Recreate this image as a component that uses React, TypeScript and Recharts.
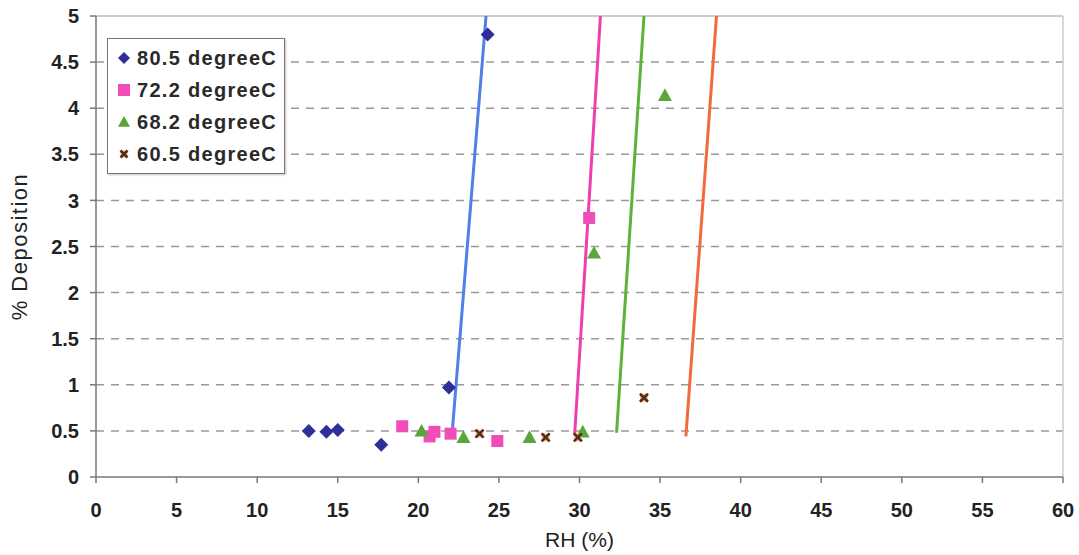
import React from "react";
import {
  ScatterChart,
  Scatter,
  XAxis,
  YAxis,
  CartesianGrid,
  ReferenceLine,
  Legend,
  Label,
} from "recharts";

// measured points, RH (%) vs % deposition
const temp805 = [
  { x: 13.2, y: 0.5 },
  { x: 14.3, y: 0.49 },
  { x: 15.0, y: 0.51 },
  { x: 17.7, y: 0.35 },
  { x: 21.9, y: 0.97 },
  { x: 24.3, y: 4.8 },
];
const temp722 = [
  { x: 19.0, y: 0.55 },
  { x: 20.7, y: 0.44 },
  { x: 21.0, y: 0.49 },
  { x: 22.0, y: 0.47 },
  { x: 24.9, y: 0.39 },
  { x: 30.6, y: 2.81 },
];
const temp682 = [
  { x: 20.2, y: 0.5 },
  { x: 22.8, y: 0.43 },
  { x: 26.9, y: 0.43 },
  { x: 30.2, y: 0.49 },
  { x: 30.9, y: 2.43 },
  { x: 35.3, y: 4.14 },
];
const temp605 = [
  { x: 23.8, y: 0.47 },
  { x: 27.9, y: 0.43 },
  { x: 29.9, y: 0.43 },
  { x: 34.0, y: 0.86 },
];

// onset trend lines
const trend805 = [
  { x: 22.1, y: 0.48 },
  { x: 24.2, y: 5 },
];
const trend722 = [
  { x: 29.7, y: 0.46 },
  { x: 31.3, y: 5 },
];
const trend682 = [
  { x: 32.3, y: 0.48 },
  { x: 34.0, y: 5 },
];
const trend605 = [
  { x: 36.6, y: 0.44 },
  { x: 38.5, y: 5 },
];

const xTicks = [0, 5, 10, 15, 20, 25, 30, 35, 40, 45, 50, 55, 60];
const yTicks = [0, 0.5, 1, 1.5, 2, 2.5, 3, 3.5, 4, 4.5, 5];
const gridValues = [0.5, 1, 1.5, 2, 2.5, 3, 3.5, 4, 4.5];

const FONT = "'Liberation Sans', Arial, sans-serif";

const Diamond = ({ cx, cy, r = 7, fill }: any) => (
  <path
    d={`M${cx},${cy - r} L${cx + r},${cy} L${cx},${cy + r} L${cx - r},${cy} Z`}
    fill={fill}
  />
);
const Square = ({ cx, cy, r = 6, fill }: any) => (
  <rect x={cx - r} y={cy - r} width={r * 2} height={r * 2} fill={fill} />
);
const Triangle = ({ cx, cy, r = 7, fill }: any) => (
  <path
    d={`M${cx},${cy - r} L${cx + r},${cy + r * 0.8} L${cx - r},${cy + r * 0.8} Z`}
    fill={fill}
  />
);
const Cross = ({ cx, cy, r = 4 }: any) => (
  <g>
    <rect x={cx - r} y={cy - r} width={r * 2} height={r * 2} fill="#d9a060" opacity={0.6} />
    <path
      d={`M${cx - r},${cy - r} L${cx + r},${cy + r} M${cx + r},${cy - r} L${cx - r},${cy + r}`}
      stroke="#5a2a14"
      strokeWidth={2.6}
    />
  </g>
);

const series = [
  { name: "80.5 degreeC", color: "#2f2f9a", Shape: Diamond },
  { name: "72.2 degreeC", color: "#f04db8", Shape: Square },
  { name: "68.2 degreeC", color: "#5ba63a", Shape: Triangle },
  { name: "60.5 degreeC", color: "#5a2a14", Shape: Cross },
];

const LegendBox = () => (
  <div
    style={{
      border: "1px solid #777",
      background: "#fff",
      padding: "3px 6px 3px 6px",
      width: 164,
      boxShadow: "1px 1px 2px rgba(0,0,0,0.25)",
    }}
  >
    {series.map(({ name, color, Shape }) => (
      <div
        key={name}
        style={{
          display: "flex",
          alignItems: "center",
          height: 32,
          fontFamily: FONT,
          fontWeight: "bold",
          fontSize: 20,
          color: "#2a2a2a",
          letterSpacing: 1.3,
          whiteSpace: "nowrap",
        }}
      >
        <svg width={20} height={20} style={{ marginRight: 3 }}>
          <Shape cx={10} cy={10} r={Shape === Cross ? 3.5 : 6} fill={color} />
        </svg>
        {name}
      </div>
    ))}
  </div>
);

const noDot = () => <g />;

export default function App() {
  const tick = { fill: "#222", fontSize: 20, fontWeight: "bold", fontFamily: FONT };
  return (
    <div style={{ position: "absolute", left: 0, top: 0, background: "#fff" }}>
      <ScatterChart
        width={1079}
        height={555}
        margin={{ top: 16, right: 16, bottom: 0, left: 0 }}
      >
        <CartesianGrid
          horizontal
          vertical={false}
          horizontalValues={gridValues}
          stroke="#999"
          strokeDasharray="8 7"
          strokeWidth={1.5}
        />
        <ReferenceLine y={5} stroke="#bbb" strokeWidth={1.5} />
        <ReferenceLine x={60} stroke="#ccc" strokeWidth={1.5} />
        <XAxis
          type="number"
          dataKey="x"
          domain={[0, 60]}
          ticks={xTicks}
          interval={0}
          height={78}
          tick={tick}
          tickSize={6}
          tickMargin={20}
          stroke="#777"
          strokeWidth={1.5}
        >
          <Label
            value="RH (%)"
            position="insideBottom"
            offset={8}
            style={{ fill: "#222", fontSize: 21, fontFamily: FONT }}
          />
        </XAxis>
        <YAxis
          type="number"
          dataKey="y"
          domain={[0, 5]}
          ticks={yTicks}
          interval={0}
          width={96}
          tick={tick}
          tickSize={6}
          tickMargin={11}
          stroke="#777"
          strokeWidth={1.5}
        >
          <Label
            value="% Deposition"
            angle={-90}
            position="insideLeft"
            offset={25}
            dx={-6}
            style={{
              fill: "#222",
              fontSize: 22,
              fontFamily: FONT,
              letterSpacing: 1.5,
              textAnchor: "middle",
            }}
          />
        </YAxis>

        <Scatter data={trend805} line={{ stroke: "#4f7fe8", strokeWidth: 3 }} shape={noDot} legendType="none" isAnimationActive={false} />
        <Scatter data={trend722} line={{ stroke: "#ee3faf", strokeWidth: 3 }} shape={noDot} legendType="none" isAnimationActive={false} />
        <Scatter data={trend682} line={{ stroke: "#5db33a", strokeWidth: 3 }} shape={noDot} legendType="none" isAnimationActive={false} />
        <Scatter data={trend605} line={{ stroke: "#f26a3e", strokeWidth: 3 }} shape={noDot} legendType="none" isAnimationActive={false} />

        <Scatter name="80.5 degreeC" data={temp805} fill="#2f2f9a" shape={(p: any) => <Diamond {...p} fill="#2f2f9a" />} isAnimationActive={false} />
        <Scatter name="72.2 degreeC" data={temp722} fill="#f04db8" shape={(p: any) => <Square {...p} fill="#f04db8" />} isAnimationActive={false} />
        <Scatter name="68.2 degreeC" data={temp682} fill="#5ba63a" shape={(p: any) => <Triangle {...p} fill="#5ba63a" />} isAnimationActive={false} />
        <Scatter name="60.5 degreeC" data={temp605} fill="#5a2a14" shape={(p: any) => <Cross {...p} />} isAnimationActive={false} />

        {/* centred/middle so the legend reserves no space; placed by wrapperStyle */}
        <Legend
          content={LegendBox}
          layout="vertical"
          verticalAlign="middle"
          align="center"
          wrapperStyle={{ left: 107, top: 38, width: "auto", height: "auto" }}
        />
      </ScatterChart>
    </div>
  );
}
